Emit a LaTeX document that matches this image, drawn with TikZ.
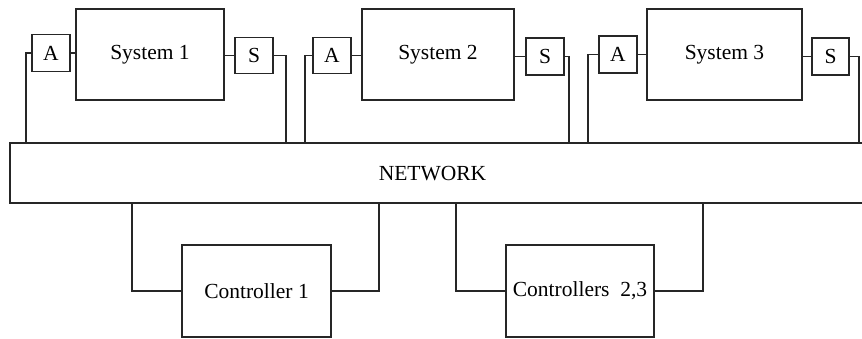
\documentclass[tikz,border=0pt]{standalone}
\usepackage{fontspec}
\setmainfont{Liberation Serif}
\tikzset{
  blk/.style={draw=black!85,line width=1.2pt,rectangle,inner sep=0pt},
  wire/.style={draw=black!85,line width=1.2pt}
}
\begin{document}
\begin{tikzpicture}[x=1pt,y=1pt,yscale=-1,font=\fontsize{21.5}{25}\selectfont]
\useasboundingbox (0,0) rectangle (862,338);
\clip (0,0) rectangle (862,338);
% plants
\node[blk,minimum width=148,minimum height=91] (Nsys1) at (150,54.5) {System 1};
\node[blk,minimum width=152,minimum height=91] (Nsys2) at (438,54.5) {System 2};
\node[blk,minimum width=155,minimum height=91] (Nsys3) at (724.5,54.5) {System 3};
\node[blk,minimum width=38,minimum height=37] (NA1) at (51,53) {A};
\node[blk,minimum width=38,minimum height=36] (NA2) at (332,55.5) {A};
\node[blk,minimum width=38,minimum height=37] (NA3) at (618,54.5) {A};
\node[blk,minimum width=38,minimum height=36] (NS1) at (254,55.5) {S};
\node[blk,minimum width=38,minimum height=37] (NS2) at (545,56.5) {S};
\node[blk,minimum width=37,minimum height=37] (NS3) at (830.5,56.5) {S};
% network and controllers
\node[blk,minimum width=870,minimum height=60] (Nnet) at (445,173) {};
\node (Nnettext) at (432.5,174) {NETWORK};
\node[blk,minimum width=149,minimum height=92] (Nc1) at (256.5,291) {Controller 1};
\node[blk,minimum width=148,minimum height=92] (Nc2) at (580,291) {Controllers\ \ 2,3};
% wire corners
\coordinate (Wa1) at (26,143);
\coordinate (Ws1) at (286,143);
\coordinate (Wa2) at (305,143);
\coordinate (Ws2) at (569,143);
\coordinate (Wa3) at (588,143);
\coordinate (Ws3) at (859,143);
\coordinate (Wc1l) at (132,203);
\coordinate (Wc1r) at (379,203);
\coordinate (Wc2l) at (456,203);
\coordinate (Wc2r) at (703,203);
\draw[wire] (NA1.east) -- (NA1.east -| Nsys1.west);
\draw[wire] (NA2.east) -- (NA2.east -| Nsys2.west);
\draw[wire] (NA3.east) -- (NA3.east -| Nsys3.west);
\draw[wire] (NS1.west) -- (NS1.west -| Nsys1.east);
\draw[wire] (NS2.west) -- (NS2.west -| Nsys2.east);
\draw[wire] (NS3.west) -- (NS3.west -| Nsys3.east);
\draw[wire] (NA1.west) -| (Wa1);
\draw[wire] (NA2.west) -| (Wa2);
\draw[wire] (NA3.west) -| (Wa3);
\draw[wire] (NS1.east) -| (Ws1);
\draw[wire] (NS2.east) -| (Ws2);
\draw[wire] (NS3.east) -| (Ws3);
\draw[wire] (Nc1.west) -| (Wc1l);
\draw[wire] (Nc1.east) -| (Wc1r);
\draw[wire] (Nc2.west) -| (Wc2l);
\draw[wire] (Nc2.east) -| (Wc2r);
\end{tikzpicture}
\end{document}
